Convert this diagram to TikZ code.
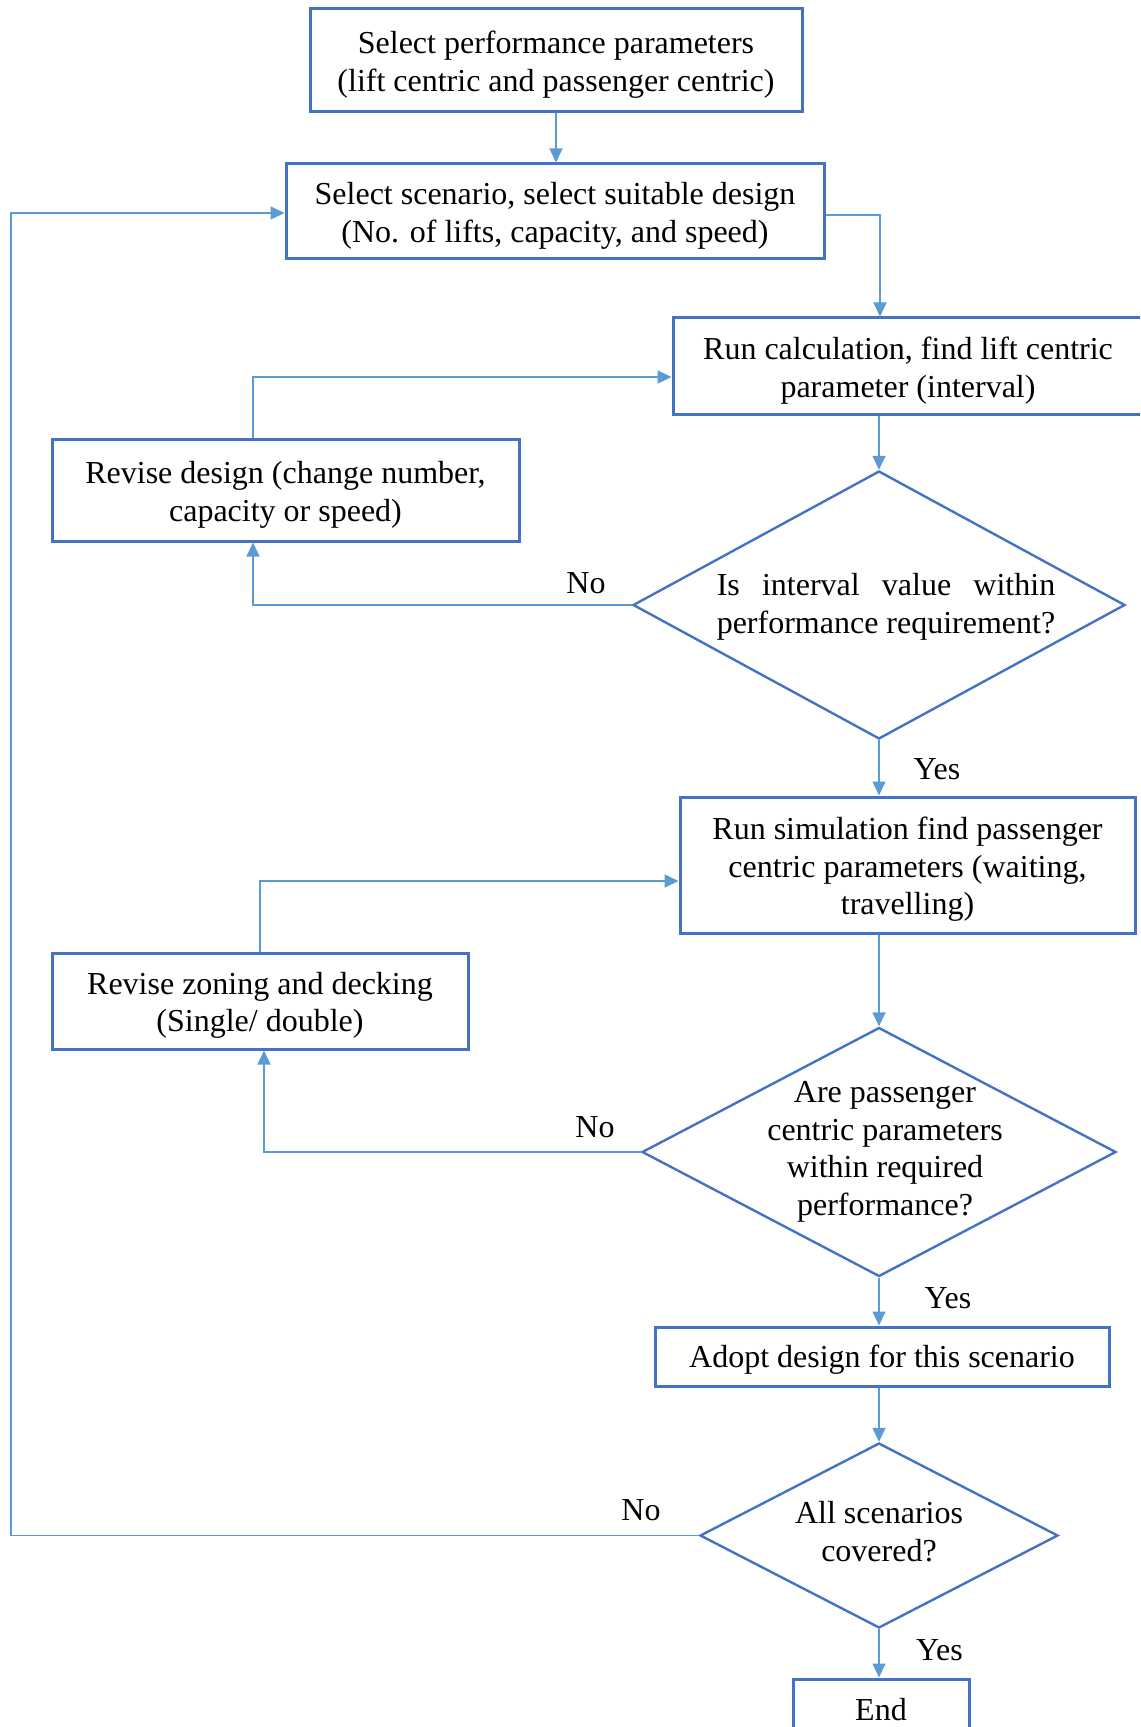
\documentclass[tikz,border=0pt]{standalone}
\usepackage{fontspec}
\setmainfont{Liberation Serif}
\usepackage{calc}
\usetikzlibrary{arrows.meta,shapes.geometric}
\definecolor{boxblue}{HTML}{4472C4}
\definecolor{linkblue}{HTML}{5B9BD5}
\tikzset{
  txt/.style={font=\fontsize{16pt}{18.8pt}\selectfont, align=center},
  stepbox/.style={draw=boxblue, line width=1.5pt, fill=white, inner sep=0pt},
  dia/.style={shape=diamond, draw=boxblue, line width=1.2pt, inner sep=0pt},
  conn/.style={draw=linkblue, line width=0.75pt, -{Triangle[width=6.5pt,length=7pt]}},
  lbl/.style={txt, inner sep=0pt},
  btxt/.style={txt, inner sep=0pt, yshift=-2.2pt}
}
\begin{document}
\begin{tikzpicture}[x=0.5pt,y=-0.5pt]
\clip (0,0) rectangle (1140,1727);
\fill[white] (0,0) rectangle (1140,1727);

\node[stepbox, minimum width=246pt, minimum height=51.5pt,
  label={[btxt]center:{Select performance parameters\\(lift centric and passenger centric)}}] (b1) at (556,60) {};
\node[stepbox, minimum width=269pt, minimum height=47.5pt,
  label={[btxt]center:{Select scenario, select suitable design\\(No. of lifts, capacity, and speed)}}] (b2) at (555,211.5) {};
\node[stepbox, minimum width=235pt, minimum height=48.5pt,
  label={[btxt]center:{Run calculation, find lift centric\\parameter (interval)}}] (b3) at (908,366.5) {};
\node[stepbox, minimum width=233.5pt, minimum height=50.5pt,
  label={[btxt]center:{Revise design (change number,\\capacity or speed)}}] (rd) at (285.5,490.5) {};
\node[dia, aspect=1.836, minimum width=246pt, minimum height=134pt,
  label={[lbl, xshift=3.5pt, yshift=-1pt]center:{\makebox[\widthof{performance requirement?}][s]{Is interval value within}\\performance requirement?}}] (d1) at (879,605) {};
\node[stepbox, minimum width=227.5pt, minimum height=68pt,
  label={[btxt]center:{Run simulation find passenger\\centric parameters (waiting,\\travelling)}}] (b4) at (907.5,865) {};
\node[stepbox, minimum width=208pt, minimum height=48pt,
  label={[btxt]center:{Revise zoning and decking\\(Single/ double)}}] (rz) at (260,1001) {};
\node[dia, aspect=1.9, minimum width=237pt, minimum height=124.5pt,
  label={[lbl, xshift=3pt]center:{Are passenger\\centric parameters\\within required\\performance?}}] (d2) at (879,1152) {};
\node[stepbox, minimum width=227pt, minimum height=29.5pt,
  label={[btxt, yshift=0.6pt]center:{Adopt design for this scenario}}] (b5) at (882,1356.5) {};
\node[dia, aspect=1.935, minimum width=179pt, minimum height=92.5pt,
  label={[lbl, yshift=2pt]center:{All scenarios\\covered?}}] (d3) at (879,1535.5) {};
\node[stepbox, minimum width=88pt, minimum height=29pt,
  label={[btxt, yshift=1.5pt]center:{End}}] (en) at (881,1708) {};

% labels
\node[lbl] (no1) at (586,583) {No};
\node[lbl] (yes1) at (937,769) {Yes};
\node[lbl] (no2) at (595,1127) {No};
\node[lbl] (yes2) at (948,1298.5) {Yes};
\node[lbl] (no3) at (641,1510) {No};
\node[lbl] (yes3) at (939.5,1650) {Yes};

% bend coordinates
\coordinate (k2) at (880,215);
\coordinate (k5) at (253,0);
\coordinate (k6) at (253,377);
\coordinate (k8) at (264,0);
\coordinate (k9) at (260,881);
\coordinate (k12) at (11,213);

% connectors
\draw[conn] (b1.south) -- (b1.south |- b2.north);
\draw[conn] (b2.east |- k2) -| (k2 |- b3.north);
\draw[conn] (d1.north |- b3.south) -- (d1.north);
\draw[conn] (d1.south) -- (d1.south |- b4.north);
\draw[conn] (d1.west) -| (k5 |- rd.south);
\draw[conn] (k6 |- rd.north) |- (b3.west |- k6);
\draw[conn] (d2.north |- b4.south) -- (d2.north);
\draw[conn] (d2.west) -| (k8 |- rz.south);
\draw[conn] (k9 |- rz.north) |- (b4.west |- k9);
\draw[conn] (d2.south) -- (d2.south |- b5.north);
\draw[conn] (d3.north |- b5.south) -- (d3.north);
\draw[conn] (d3.west) -| (k12) -- (b2.west |- k12);
\draw[conn] (d3.south) -- (d3.south |- en.north);
\end{tikzpicture}
\end{document}
